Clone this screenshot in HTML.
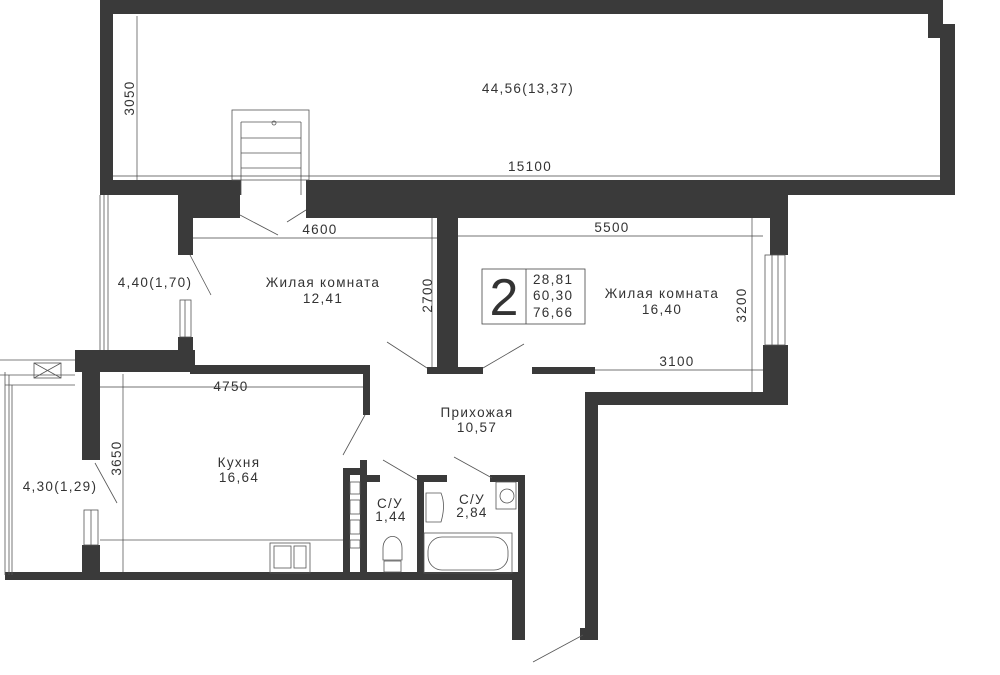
<!DOCTYPE html>
<html><head><meta charset="utf-8"><style>
html,body{margin:0;padding:0;background:#fff}
svg{display:block}
text{font-family:"Liberation Sans",sans-serif;fill:#333;letter-spacing:1.3px}
</style></head><body>
<svg width="1000" height="675" viewBox="0 0 1000 675" xmlns="http://www.w3.org/2000/svg">
<g fill="#3a3a3a">
<rect x="100" y="0" width="843" height="14"/>
<rect x="928" y="0" width="15" height="38"/>
<rect x="928" y="24" width="27" height="14"/>
<rect x="940" y="24" width="15" height="171"/>
<rect x="100" y="0" width="13" height="195"/>
<rect x="100" y="180" width="141" height="15"/>
<rect x="306" y="180" width="649" height="15"/>
<rect x="178" y="195" width="62" height="23"/>
<rect x="306" y="195" width="482" height="23"/>
<rect x="178" y="195" width="15" height="60"/>
<rect x="770" y="195" width="18" height="60"/>
<rect x="763" y="345" width="25" height="60"/>
<rect x="590" y="392" width="198" height="13"/>
<rect x="585" y="392" width="13" height="248"/>
<rect x="580" y="628" width="18" height="12"/>
<rect x="437" y="218" width="21" height="152"/>
<rect x="427" y="367" width="56" height="7"/>
<rect x="532" y="367" width="63" height="7"/>
<rect x="178" y="337" width="15" height="25"/>
<rect x="75" y="350" width="120" height="22"/>
<rect x="190" y="365" width="180" height="9"/>
<rect x="363" y="365" width="7" height="50"/>
<rect x="82" y="350" width="18" height="110"/>
<rect x="82" y="545" width="18" height="33"/>
<rect x="5" y="572" width="520" height="8"/>
<rect x="512" y="575" width="13" height="65"/>
<rect x="343" y="468" width="7" height="107"/>
<rect x="343" y="468" width="22" height="7"/>
<rect x="360" y="460" width="7" height="115"/>
<rect x="360" y="475" width="20" height="7"/>
<rect x="417" y="475" width="7" height="100"/>
<rect x="417" y="475" width="30" height="7"/>
<rect x="490" y="475" width="35" height="7"/>
<rect x="518" y="475" width="7" height="100"/>
</g>
<g fill="#fff" stroke="#555" stroke-width="0.8">
<rect x="350" y="482" width="10" height="12"/>
<rect x="350" y="500" width="10" height="14"/>
<rect x="350" y="520" width="10" height="14"/>
<rect x="350" y="540" width="10" height="8"/>
<rect x="180" y="300" width="11" height="37"/>
<rect x="84" y="510" width="14" height="35"/>
<rect x="765" y="255" width="20" height="90"/>
</g>
<g stroke="#555" stroke-width="0.8" fill="none">
<line x1="185" y1="300" x2="185" y2="337"/>
<line x1="91" y1="510" x2="91" y2="545"/>
<line x1="772" y1="255" x2="772" y2="345"/><line x1="778" y1="255" x2="778" y2="345"/>
<rect x="232" y="110" width="77" height="70"/>
<line x1="241" y1="122" x2="241" y2="195"/><line x1="301" y1="122" x2="301" y2="195"/>
<line x1="241" y1="122" x2="301" y2="122"/>
<line x1="241" y1="138" x2="301" y2="138"/>
<line x1="241" y1="153" x2="301" y2="153"/>
<line x1="241" y1="168" x2="301" y2="168"/>
<circle cx="274" cy="123" r="2"/>
<line x1="100" y1="195" x2="100" y2="350"/><line x1="104" y1="195" x2="104" y2="350"/><line x1="108" y1="195" x2="108" y2="350"/>
<line x1="5" y1="372" x2="5" y2="575"/><line x1="9" y1="375" x2="9" y2="575"/><line x1="12" y1="385" x2="12" y2="575"/>
<line x1="0" y1="360" x2="75" y2="360"/><line x1="0" y1="375" x2="75" y2="375"/><line x1="5" y1="385" x2="75" y2="385"/>
<rect x="34" y="363" width="27" height="15"/><line x1="34" y1="363" x2="61" y2="378"/><line x1="61" y1="363" x2="34" y2="378"/>
<line x1="240" y1="215" x2="278" y2="235"/><line x1="306" y1="210" x2="287" y2="222"/>
<line x1="190" y1="255" x2="211" y2="295"/>
<line x1="387" y1="342" x2="427" y2="368"/><line x1="483" y1="368" x2="524" y2="344"/>
<line x1="365" y1="415" x2="343" y2="455"/>
<line x1="95" y1="463" x2="117" y2="503"/>
<line x1="383" y1="460" x2="417" y2="480"/><line x1="454" y1="457" x2="492" y2="478"/>
<line x1="583" y1="635" x2="533" y2="662"/>
<line x1="100" y1="540" x2="343" y2="540"/>
<rect x="270" y="543" width="40" height="30"/><rect x="274" y="546" width="17" height="22"/><rect x="294" y="546" width="12" height="22"/>
<path d="M383 560 L383 548 A9 11 0 0 1 402 548 L402 560 Z"/><rect x="384" y="561" width="17" height="11"/>
<path d="M426 493 L441 493 Q446 505 441 522 L426 522 Z"/>
<rect x="424" y="533" width="88" height="40"/><rect x="428" y="537" width="80" height="33" rx="14"/>
<rect x="496" y="482" width="20" height="27"/><circle cx="507" cy="496" r="7"/>
</g>
<g stroke="#444" stroke-width="0.7">
<line x1="113" y1="176" x2="940" y2="176"/>
<line x1="137" y1="16" x2="137" y2="180"/>
<line x1="193" y1="238" x2="437" y2="238"/>
<line x1="432" y1="218" x2="432" y2="367"/>
<line x1="458" y1="236" x2="763" y2="236"/>
<line x1="752" y1="218" x2="752" y2="392"/>
<line x1="595" y1="370" x2="763" y2="370"/>
<line x1="100" y1="387" x2="363" y2="387"/>
<line x1="123" y1="374" x2="123" y2="572"/>
</g>
<g font-size="13.5">
<text x="528" y="93" text-anchor="middle">44,56(13,37)</text>
<text x="530" y="171" text-anchor="middle">15100</text>
<text x="134" y="98" text-anchor="middle" transform="rotate(-90 134 98)">3050</text>
<text x="320" y="234" text-anchor="middle">4600</text>
<text x="612" y="232" text-anchor="middle">5500</text>
<text x="432" y="295" text-anchor="middle" transform="rotate(-90 432 295)">2700</text>
<text x="746" y="305" text-anchor="middle" transform="rotate(-90 746 305)">3200</text>
<text x="677" y="366" text-anchor="middle">3100</text>
<text x="231" y="391" text-anchor="middle">4750</text>
<text x="121" y="458" text-anchor="middle" transform="rotate(-90 121 458)">3650</text>
<text x="155" y="287" text-anchor="middle">4,40(1,70)</text>
<text x="60" y="491" text-anchor="middle">4,30(1,29)</text>
<text x="323" y="287" text-anchor="middle">Жилая комната</text>
<text x="323" y="303" text-anchor="middle">12,41</text>
<text x="662" y="298" text-anchor="middle">Жилая комната</text>
<text x="662" y="314" text-anchor="middle">16,40</text>
<text x="477" y="417" text-anchor="middle">Прихожая</text>
<text x="477" y="432" text-anchor="middle">10,57</text>
<text x="239" y="467" text-anchor="middle">Кухня</text>
<text x="239" y="482" text-anchor="middle">16,64</text>
<text x="390" y="508" text-anchor="middle">С/У</text>
<text x="391" y="521" text-anchor="middle">1,44</text>
<text x="472" y="504" text-anchor="middle">С/У</text>
<text x="472" y="517" text-anchor="middle">2,84</text>
</g>
<rect x="482" y="269" width="103" height="55" fill="none" stroke="#444" stroke-width="0.8"/>
<line x1="526" y1="269" x2="526" y2="324" stroke="#444" stroke-width="0.8"/>
<text x="504" y="315" font-size="52" text-anchor="middle" style="letter-spacing:0">2</text>
<g font-size="13.5"><text x="533" y="284">28,81</text><text x="533" y="300">60,30</text><text x="533" y="317">76,66</text></g>
</svg>
</body></html>
